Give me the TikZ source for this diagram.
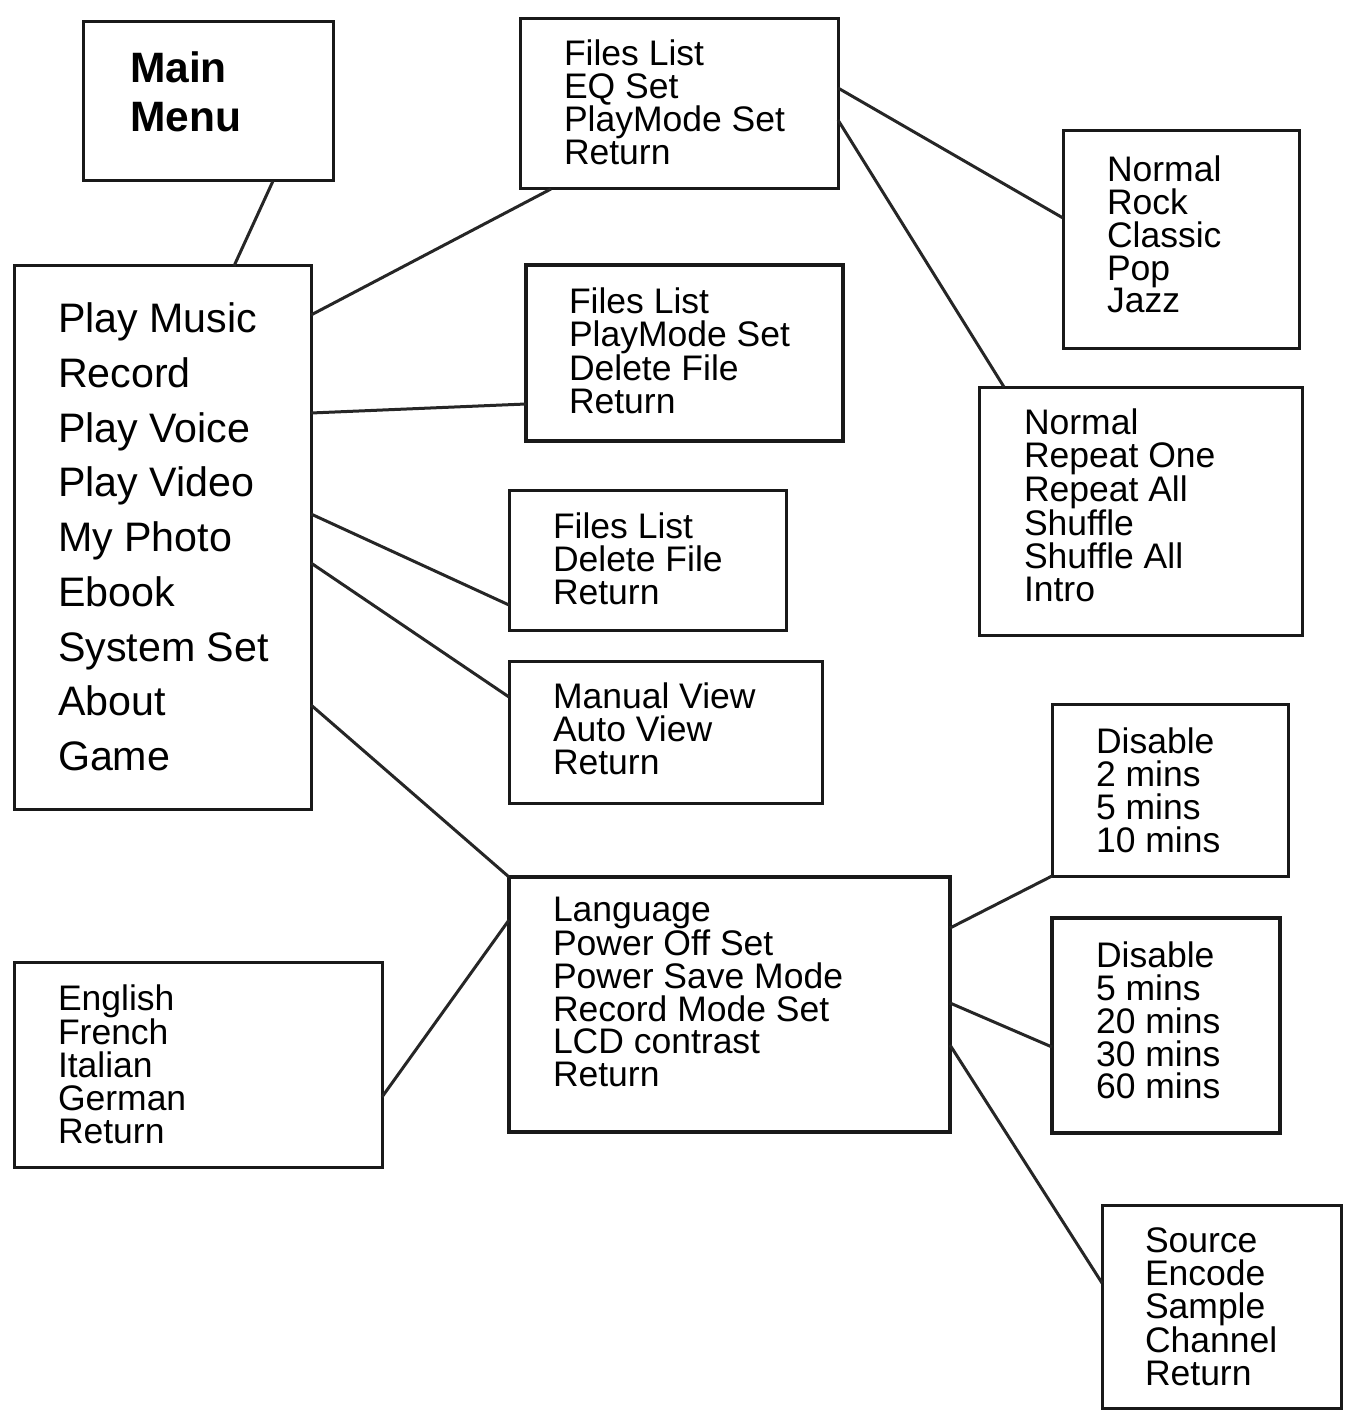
\documentclass[tikz,border=0pt]{standalone}
\usepackage{fontspec}
\setmainfont{Liberation Sans}
\begin{document}
\begin{tikzpicture}[x=1pt,y=-1pt,
  box/.style={draw=black!90, line width=3pt, inner sep=0pt, outer sep=0pt, anchor=north west},
  txt/.style={anchor=north west, inner sep=0pt, outer sep=0pt, align=left, font=\fontsize{35.5}{32.8}\selectfont},
  link/.style={draw=black!85, line width=3pt}]
\useasboundingbox (0,0) rectangle (1348,1412);
% boxes
\node[box, minimum width=250pt, minimum height=159pt] (mm) at (83,22) {};
\node[box, minimum width=297pt, minimum height=543pt] (ml) at (14,266) {};
\node[box, minimum width=318pt, minimum height=170pt] (pm) at (520,19) {};
\node[box, minimum width=236pt, minimum height=217pt] (eq) at (1063,131) {};
\node[box, minimum width=323pt, minimum height=248pt] (pmode) at (979,387) {};
\node[box, line width=3.8pt, minimum width=317pt, minimum height=176pt] (rec) at (526,265) {};
\node[box, minimum width=277pt, minimum height=140pt] (voice) at (509,490) {};
\node[box, minimum width=313pt, minimum height=142pt] (photo) at (509,661) {};
\node[box, line width=3.5pt, minimum width=441pt, minimum height=255pt] (sys) at (509,877) {};
\node[box, minimum width=368pt, minimum height=205pt] (lang) at (14,962) {};
\node[box, minimum width=236pt, minimum height=172pt] (poff) at (1052,704) {};
\node[box, line width=3.5pt, minimum width=228pt, minimum height=215pt] (psave) at (1052,918) {};
\node[box, minimum width=239pt, minimum height=203pt] (rmode) at (1102,1205) {};
% texts
\node[txt, font=\bfseries\fontsize{42.5}{49}\selectfont] (tmm) at (130,52) {Main\\Menu};
\node[txt, font=\fontsize{41.2}{54.7}\selectfont] (tml) at (58,303) {Play Music\\Record\\Play Voice\\Play Video\\My Photo\\Ebook\\System Set\\About\\Game};
\node[txt] (tpm) at (564,40) {Files List\\EQ Set\\PlayMode Set\\Return};
\node[txt] (teq) at (1107,156) {Normal\\Rock\\Classic\\Pop\\Jazz};
\node[txt] (tpmode) at (1024,409) {Normal\\Repeat One\\Repeat All\\Shuffle\\Shuffle All\\Intro};
\node[txt] (trec) at (569,288) {Files List\\PlayMode Set\\Delete File\\Return};
\node[txt] (tvoice) at (553,513) {Files List\\Delete File\\Return};
\node[txt] (tphoto) at (553,683) {Manual View\\Auto View\\Return};
\node[txt] (tsys) at (553,897) {Language\\Power Off Set\\Power Save Mode\\Record Mode Set\\LCD contrast\\Return};
\node[txt] (tlang) at (58,985) {English\\French\\Italian\\German\\Return};
\node[txt] (tpoff) at (1096,728) {Disable\\2 mins\\5 mins\\10 mins};
\node[txt] (tpsave) at (1096,942) {Disable\\5 mins\\20 mins\\30 mins\\60 mins};
\node[txt] (trmode) at (1145,1228) {Source\\Encode\\Sample\\Channel\\Return};
% connectors
\draw[link] ([xshift=190pt]mm.south west) -- ([xshift=220pt]ml.north west);
\draw[link] ([yshift=-49pt]ml.north east) -- ([xshift=31pt]pm.south west);
\draw[link] ([yshift=-147pt]ml.north east) -- ([yshift=-139pt]rec.north west);
\draw[link] ([yshift=-248pt]ml.north east) -- ([yshift=-115pt]voice.north west);
\draw[link] ([yshift=-297pt]ml.north east) -- ([yshift=-36pt]photo.north west);
\draw[link] ([yshift=-439pt]ml.north east) -- (sys.north west);
\draw[link] ([yshift=-135pt]lang.north east) -- ([yshift=-43pt]sys.north west);
\draw[link] ([yshift=-69pt]pm.north east) -- ([yshift=-87pt]eq.north west);
\draw[link] ([yshift=-101pt]pm.north east) -- ([xshift=25pt]pmode.north west);
\draw[link] ([yshift=-51pt]sys.north east) -- (poff.south west);
\draw[link] ([yshift=-126pt]sys.north east) -- ([yshift=-129pt]psave.north west);
\draw[link] ([yshift=-168pt]sys.north east) -- ([yshift=-78pt]rmode.north west);
\end{tikzpicture}
\end{document}
